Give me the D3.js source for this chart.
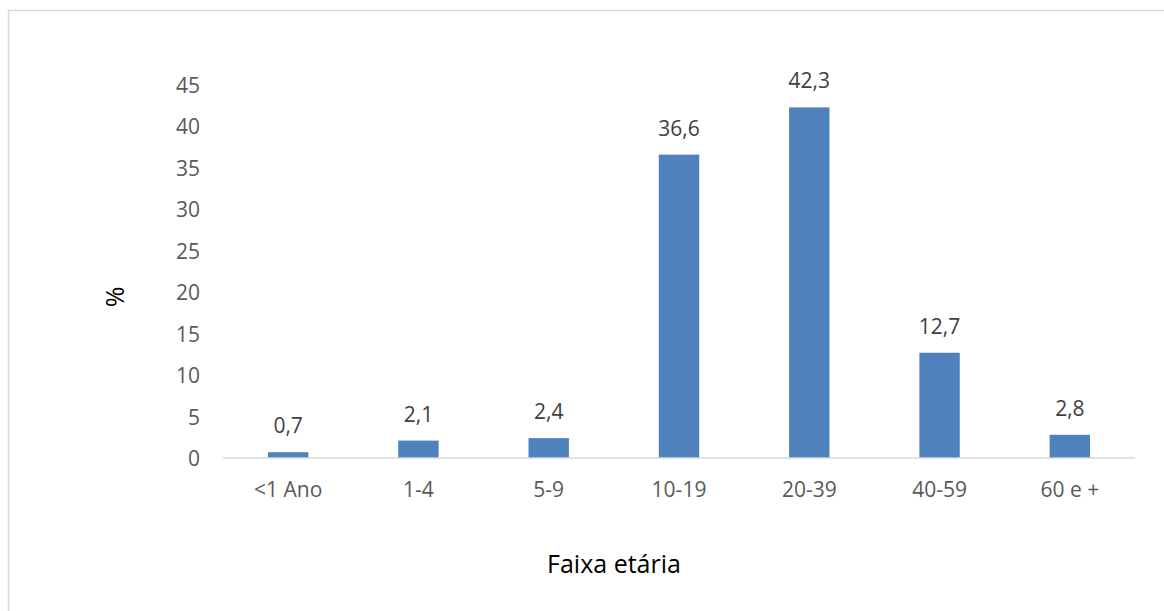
<!DOCTYPE html>
<html><head><meta charset="utf-8">
<script src="https://cdn.jsdelivr.net/npm/d3@7"></script>
<style>
html,body{margin:0;padding:0;background:#fff;}
svg{display:block;font-family:"Open Sans", sans-serif;}
</style></head>
<body><svg id="c" width="1164" height="611"></svg>
<script>
const categories = ["<1 Ano","1-4","5-9","10-19","20-39","40-59","60 e +"];
const values = [0.7,2.1,2.4,36.6,42.3,12.7,2.8];
const yTicks = [0,5,10,15,20,25,30,35,40,45];
const yTitle = "%";
const xTitle = "Faixa etária";

const FONT = "'Open Sans', sans-serif";
const svg = d3.select("#c");
svg.append("rect").attr("x",8.5).attr("y",10.5).attr("width",1170).attr("height",620)
  .attr("fill","#fff").attr("stroke","#d9d9d9").attr("stroke-width",1.5);

const x0 = 223, x1 = 1135, yBase = 458, yTop = 85;
const x = d3.scaleBand().domain(categories).range([x0,x1]).paddingInner(0.69).paddingOuter(0.345);
const y = d3.scaleLinear().domain([0,45]).range([yBase,yTop]);

const fmt = v => d3.format(".1f")(v).replace(".", ",");

svg.append("g").selectAll("rect").data(values).join("rect")
  .attr("x",(d,i)=>x(categories[i])).attr("width",x.bandwidth())
  .attr("y",d=>y(d)).attr("height",d=>yBase-y(d)).attr("fill","#4f81bd");

svg.append("line").attr("x1",x0).attr("x2",x1).attr("y1",yBase).attr("y2",yBase)
  .attr("stroke","#d9d9d9").attr("stroke-width",1.5);

// y axis
const ya = svg.append("g").attr("transform",`translate(${x0},0)`)
  .call(d3.axisLeft(y).tickValues(yTicks).tickSize(0).tickPadding(23));
ya.select(".domain").remove();
ya.selectAll("text").attr("font-size",21).attr("fill","#595959").attr("font-family",FONT)
  .attr("dy",null).attr("y",7.5);

// x axis
const xa = svg.append("g").attr("transform",`translate(0,${yBase})`)
  .call(d3.axisBottom(x).tickSize(0));
xa.select(".domain").remove();
xa.selectAll("text").attr("font-size",21).attr("fill","#595959").attr("font-family",FONT)
  .attr("dy",null).attr("y",39);

// data labels
svg.append("g").selectAll("text").data(values).join("text")
  .attr("x",(d,i)=>x(categories[i])+x.bandwidth()/2).attr("y",d=>y(d)-19)
  .attr("text-anchor","middle").attr("font-size",21).attr("fill","#404040").text(d=>fmt(d));

svg.append("text").attr("transform","translate(124,297) rotate(-90)").attr("text-anchor","middle")
  .attr("font-size",25).attr("fill","#000").text(yTitle);
svg.append("text").attr("x",614).attr("y",573).attr("text-anchor","middle")
  .attr("font-size",25).attr("fill","#000").text(xTitle);
</script></body></html>
